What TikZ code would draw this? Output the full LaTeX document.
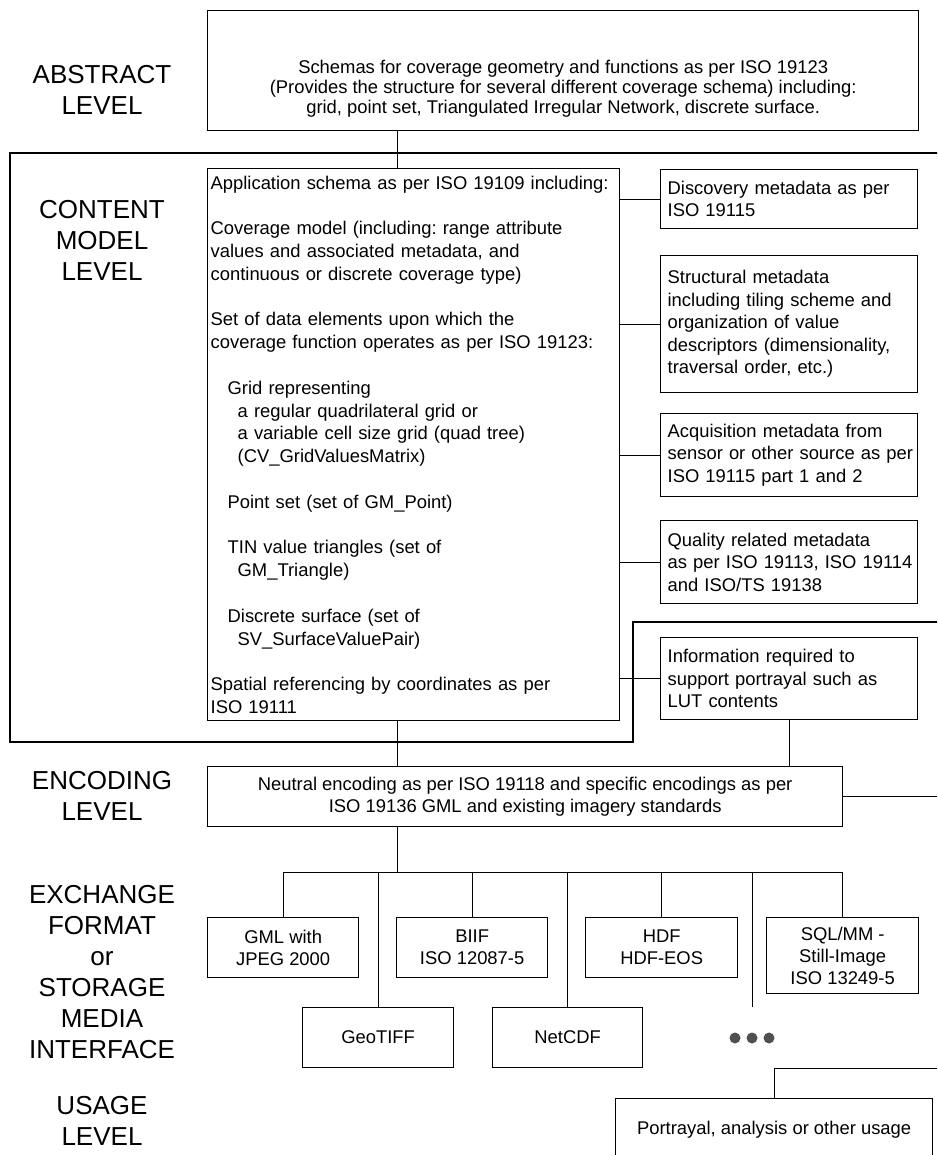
\documentclass[tikz,border=0pt]{standalone}
\usepackage{fontspec}
\setmainfont{Liberation Sans}
\usepackage{tikz}
\definecolor{dotgray}{HTML}{505050}
\frenchspacing

\begin{document}
\begin{tikzpicture}[x=1pt,y=-1pt,
    box/.style={draw,line width=1.3pt,anchor=north west,inner sep=0pt},
    lbox/.style={box,align=left,inner xsep=4pt,inner ysep=2pt,font=\fontsize{18.4}{22.5}\selectfont},
    rbox/.style={lbox,text width=253pt,inner xsep=2pt,execute at begin node={\leftskip=5pt}},
    cbox/.style={box,align=center,font=\fontsize{18.4}{22}\selectfont},
    lvl/.style={align=center,font=\fontsize{26}{31}\selectfont},
    wire/.style={line width=0.8pt},
    frame/.style={line width=1.3pt}]
      \useasboundingbox (0,0) rectangle (937,1155);
      \clip (0,0) rectangle (937,1155);
      \coordinate (spine) at (397,0);
      % abstract level
      \node[lvl] (abslbl) at (102,90) {ABSTRACT\\LEVEL};
      \node[box,minimum width=711pt,minimum height=120pt] (abs) at (207,10) {};
      \node[align=center,font=\fontsize{18.4}{20}\selectfont] (abstxt) at ([yshift=-18pt]abs.center)
        {Schemas for coverage geometry and functions as per ISO 19123\\
         (Provides the structure for several different coverage schema) including:\\
         grid, point set, Triangulated Irregular Network, discrete surface.};
      % content model level
      \draw[frame] (945,153) -- (10,153) -- (10,742) -- (633,742) -- (633,622) -- (945,622);
      \node[lvl] (cmlbl) at (102,240) {CONTENT\\MODEL\\LEVEL};
      \node[lbox,text width=406pt,inner xsep=3pt,minimum height=552pt,font=\fontsize{18.4}{22.8}\selectfont] (app) at (207,168)
        {Application schema as per ISO 19109 including:\\[22.8pt]
         Coverage model (including: range attribute\\
         values and associated metadata, and\\
         continuous or discrete coverage type)\\[22.8pt]
         Set of data elements upon which the\\
         coverage function operates as per ISO 19123:\\[22.8pt]
         \hspace*{17pt}Grid representing\\
         \hspace*{27pt}a regular quadrilateral grid or\\
         \hspace*{27pt}a variable cell size grid (quad tree)\\
         \hspace*{27pt}(CV\_GridValuesMatrix)\\[22.8pt]
         \hspace*{17pt}Point set (set of GM\_Point)\\[22.8pt]
         \hspace*{17pt}TIN value triangles (set of\\
         \hspace*{27pt}GM\_Triangle)\\[22.8pt]
         \hspace*{17pt}Discrete surface (set of\\
         \hspace*{27pt}SV\_SurfaceValuePair)\\[22.8pt]
         Spatial referencing by coordinates as per\\
         ISO 19111};
      \node[rbox,minimum height=59pt] (disc) at (660,169)
        {Discovery metadata as per\\ISO 19115};
      \node[rbox,minimum height=137pt] (struc) at (660,255)
        {Structural metadata\\including tiling scheme and\\organization of value\\descriptors (dimensionality,\\traversal order, etc.)\\[6pt]};
      \node[rbox,minimum height=83pt] (acq) at (660,413)
        {Acquisition metadata from\\sensor or other source as per\\ISO 19115 part 1 and 2};
      \node[rbox,minimum height=83pt] (qual) at (660,520)
        {Quality related metadata\\as per ISO 19113, ISO 19114\\and ISO/TS 19138};
      \node[rbox,minimum height=82pt] (info) at (660,637)
        {Information required to\\support portrayal such as\\LUT contents};
      \draw[wire] (abs.south -| spine) -- (app.north -| spine);
      \draw[wire] (disc.west) -- (disc.west -| app.east);
      \draw[wire] (struc.west) -- (struc.west -| app.east);
      \draw[wire] (acq.west) -- (acq.west -| app.east);
      \draw[wire] (qual.west) -- (qual.west -| app.east);
      \draw[wire] (info.west) -- (info.west -| app.east);
      % encoding level
      \node[lvl] (enclbl) at (102,796) {ENCODING\\LEVEL};
      \node[cbox,minimum width=635pt,minimum height=60pt] (enc) at (207,766)
        {Neutral encoding as per ISO 19118 and specific encodings as per\\ISO 19136 GML and existing imagery standards};
      \coordinate (encout) at (945,796);
      \draw[wire] (app.south -| spine) -- (enc.north -| spine);
      \draw[wire] (info.south) -- (info.south |- enc.north);
      \draw[wire] (enc.east) -- (enc.east -| encout);
      % exchange format
      \node[lvl] (exlbl) at (102,972) {EXCHANGE\\FORMAT\\or\\STORAGE\\MEDIA\\INTERFACE};
      \node[cbox,minimum width=151pt,minimum height=60pt] (gml) at (207,917) {GML with\\JPEG 2000};
      \node[cbox,minimum width=151pt,minimum height=60pt] (biif) at (396,917) {BIIF\\ISO 12087-5};
      \node[cbox,minimum width=152pt,minimum height=60pt] (hdf) at (585,917) {HDF\\HDF-EOS};
      \node[cbox,minimum width=152pt,minimum height=76pt] (sql) at (766,917) {SQL/MM -\\Still-Image\\ISO 13249-5};
      \node[cbox,minimum width=151pt,minimum height=60pt] (geotiff) at (302,1007) {GeoTIFF};
      \node[cbox,minimum width=150pt,minimum height=60pt] (netcdf) at (492,1007) {NetCDF};
      \coordinate (bus) at (397,872);
      \coordinate (more) at (752,1007);
      \draw[wire] (enc.south -| spine) -- (bus);
      \draw[wire] (gml.north |- bus) -- (sql.north |- bus);
      \draw[wire] (gml.north |- bus) -- (gml.north);
      \draw[wire] (geotiff.north |- bus) -- (geotiff.north);
      \draw[wire] (biif.north |- bus) -- (biif.north);
      \draw[wire] (netcdf.north |- bus) -- (netcdf.north);
      \draw[wire] (hdf.north |- bus) -- (hdf.north);
      \draw[wire] (more |- bus) -- (more);
      \draw[wire] (sql.north |- bus) -- (sql.north);
      \fill[dotgray] (735,1038) circle[radius=5.5pt];
      \fill[dotgray] (752,1038) circle[radius=5.5pt];
      \fill[dotgray] (769,1038) circle[radius=5.5pt];
      % usage level
      \node[lvl] (uselbl) at (102,1121) {USAGE\\LEVEL};
      \node[cbox,minimum width=317pt,minimum height=62pt] (port) at (615,1098) {Portrayal, analysis or other usage};
      \coordinate (portout) at (945,1068);
      \draw[wire] (port.north) |- (portout);
\end{tikzpicture}
\end{document}
